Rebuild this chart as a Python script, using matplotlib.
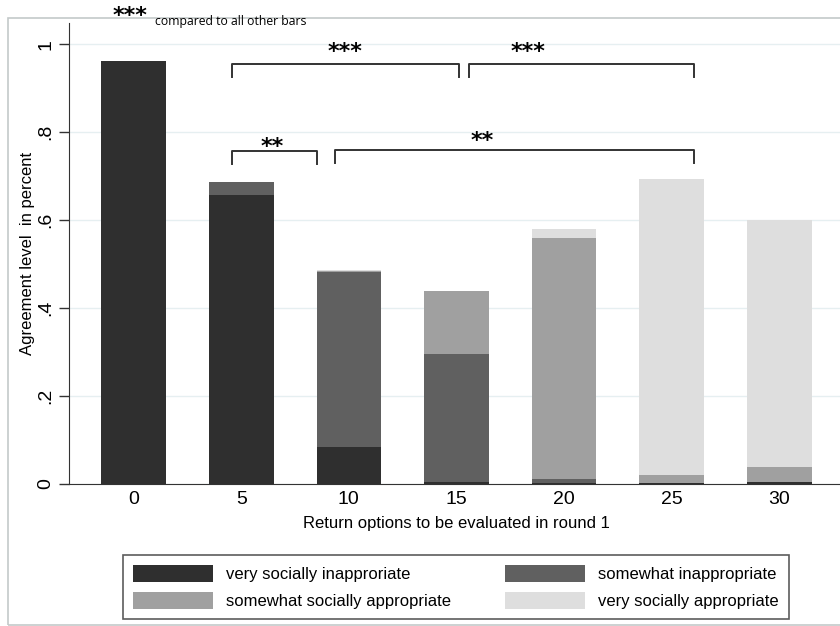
import matplotlib
matplotlib.use('Agg')
import matplotlib.pyplot as plt
from matplotlib.patches import Rectangle
import numpy as np

plt.rcParams['font.family'] = ['Liberation Sans', 'DejaVu Sans']

# data
cats = ['0', '5', '10', '15', '20', '25', '30']
very_inapp = [0.961, 0.657, 0.084, 0.004, 0.002, 0.002, 0.004]
somewhat_inapp = [0.0, 0.029, 0.398, 0.291, 0.010, 0.0, 0.0]
somewhat_app = [0.0, 0.0, 0.003, 0.144, 0.548, 0.018, 0.035]
very_app = [0.0, 0.0, 0.001, 0.0, 0.020, 0.673, 0.561]

labels = ['very socially inapproriate', 'somewhat inappropriate',
          'somewhat socially appropriate', 'very socially appropriate']
colors = ['#2f2f2f', '#606060', '#a0a0a0', '#dedede']

# significance brackets: (left bar, right bar, offsets, height, stars, text x, text y)
brackets = [
    (1, 3, -0.09, 0.02, 0.955, '***', 1.96, 0.968),
    (3, 5, 0.12, 0.21, 0.955, '***', 3.66, 0.968),
    (1, 2, -0.09, -0.30, 0.757, '**', 1.29, 0.753),
    (2, 5, -0.13, 0.21, 0.760, '**', 3.24, 0.766),
]

fig = plt.figure(figsize=(8.4, 6.26), dpi=100)
ax = fig.add_axes([69 / 840, 142 / 626, 775 / 840, 461 / 626])

x = np.arange(len(cats))
bottom = np.zeros(len(cats))
handles = []
for vals, c, lab in zip([very_inapp, somewhat_inapp, somewhat_app, very_app], colors, labels):
    h = ax.bar(x, vals, width=0.6, bottom=bottom, color=c, label=lab, zorder=2)
    handles.append(h)
    bottom += np.array(vals)

ax.set_xlim(-0.6, 6.6)
ax.set_ylim(0, 1.048)
ax.set_yticks([0, 0.2, 0.4, 0.6, 0.8, 1.0])
ax.set_yticklabels(['0', '.2', '.4', '.6', '.8', '1'], rotation=90, va='center', fontsize=14)
ax.set_xticks(x)
ax.set_xticklabels(cats, fontsize=14)
ax.tick_params(axis='x', length=0, pad=5)
ax.tick_params(axis='y', length=7.5, width=1, color='#333333', pad=3)
ax.yaxis.grid(True, color='#e6eff1', linewidth=1, zorder=0)
ax.set_axisbelow(True)
for s in ['top', 'right']:
    ax.spines[s].set_visible(False)
ax.spines['left'].set_color('#333333')
ax.spines['bottom'].set_color('#333333')

ax.set_xlabel('Return options to be evaluated in round 1', fontsize=12, labelpad=6)
ax.set_ylabel('Agreement level  in percent', fontsize=12, labelpad=2)

for i0, i1, d0, d1, y, stars, tx, ty in brackets:
    xa, xb = i0 + d0, i1 + d1
    ax.plot([xa, xa, xb, xb], [y - 0.03, y, y, y - 0.03], color='#333333', lw=1.4,
            clip_on=False, zorder=3)
    ax.text(tx, ty, stars, ha='center', va='baseline', fontsize=16,
            family='DejaVu Sans', fontweight='bold')

fig.text(130 / 840, 1 - 22 / 626, '***', ha='center', va='baseline', fontsize=16,
         family='DejaVu Sans', fontweight='bold')
fig.text(155 / 840, 1 - 21 / 626, 'compared to all other bars', ha='left', va='center',
         fontsize=8.8, family='Open Sans')

# outer graph region frame
fig.patches.append(Rectangle((8 / 840, 1 / 626), 840 / 840, 607 / 626, transform=fig.transFigure,
                             fill=False, edgecolor='#c4c9c9', linewidth=1.2))

order = [0, 2, 1, 3]
leg = fig.legend([handles[i] for i in order], [labels[i] for i in order], ncol=2,
                 loc='lower left', mode='expand', borderaxespad=0,
                 bbox_to_anchor=(123 / 840, 7 / 626, 666 / 840, 70 / 626),
                 fontsize=12, handlelength=4.8, handleheight=1.2, handletextpad=0.78,
                 frameon=True, fancybox=False, edgecolor='#333333', borderpad=0.6,
                 labelspacing=0.6)
leg.get_frame().set_linewidth(1.2)

plt.savefig('out.png', dpi=100)
